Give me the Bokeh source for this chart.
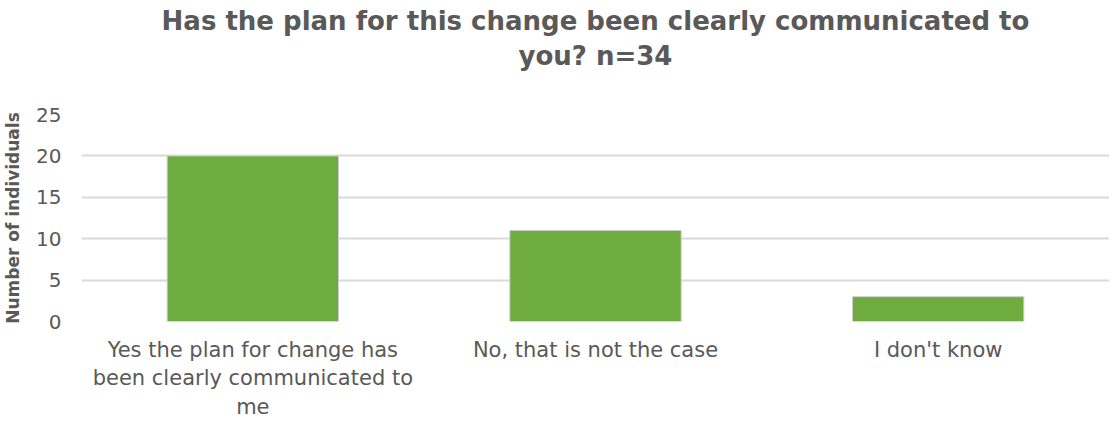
from bokeh.plotting import figure
from bokeh.models import Range1d, FactorRange, SingleIntervalTicker, Title
from bokeh.embed import file_html
from bokeh.resources import INLINE

categories = ["Yes the plan for change has\nbeen clearly communicated to\nme",
              "No, that is not the case",
              "I don't know"]
counts = [20, 11, 3]
title_lines = ["Has the plan for this change been clearly communicated to", "you? n=34"]

TXT = "#595959"
FONT = "DejaVu Sans"

p = figure(x_range=FactorRange(*categories, range_padding=0), y_range=Range1d(0, 25),
           width=1109, height=422, output_backend="svg", toolbar_location=None,
           min_border_left=10, min_border_right=0, min_border_top=0, min_border_bottom=2)

# spacer nearest the plot, then line 2, then line 1
p.add_layout(Title(text=" ", text_font_size="1px", standoff=41), "above")
p.add_layout(Title(text=title_lines[1], align="center",
                   text_font=FONT, text_font_size="26px", text_font_style="bold",
                   text_color=TXT, standoff=0), "above")
p.add_layout(Title(text=title_lines[0], align="center",
                   text_font=FONT, text_font_size="26px", text_font_style="bold",
                   text_color=TXT, standoff=6), "above")

p.vbar(x=categories, top=counts, width=0.5, fill_color="#6EAC40", line_color="#cfcfcf", line_width=1)

p.outline_line_color = None
p.xgrid.grid_line_color = None
p.ygrid.grid_line_color = "#d9d9d9"
p.ygrid.grid_line_width = 2
p.yaxis.ticker = SingleIntervalTicker(interval=5)

for ax in (p.xaxis, p.yaxis):
    ax.axis_line_color = None
    ax.major_tick_line_color = None
    ax.minor_tick_line_color = None
    ax.major_label_text_color = TXT
    ax.major_label_text_font = FONT
p.yaxis.major_label_text_font_size = "20px"
p.xaxis.major_label_text_font_size = "21px"
p.xaxis.major_label_standoff = 10
p.yaxis.major_label_standoff = 14
p.yaxis.axis_label = "Number of individuals"
p.yaxis.axis_label_text_font = FONT
p.yaxis.axis_label_text_font_size = "17px"
p.yaxis.axis_label_text_font_style = "bold"
p.yaxis.axis_label_text_color = TXT
p.yaxis.axis_label_standoff = 10

open("out.html", "w").write(file_html(p, INLINE))
